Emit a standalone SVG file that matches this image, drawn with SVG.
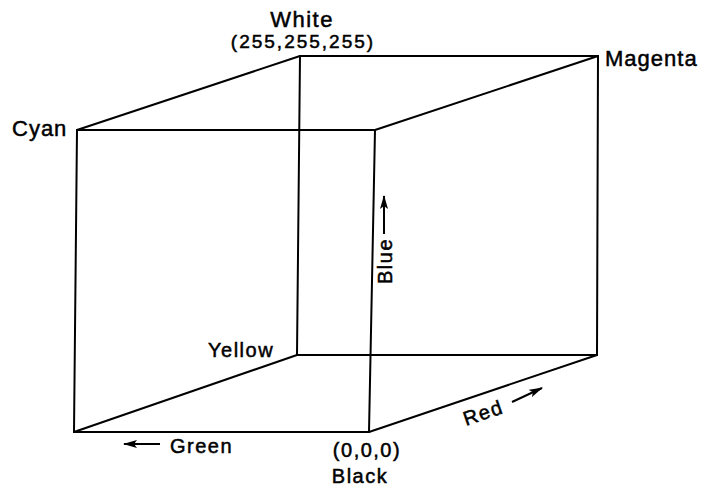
<svg xmlns="http://www.w3.org/2000/svg" width="706" height="493" viewBox="0 0 706 493">
<style>
.e{stroke:#000;stroke-width:2;fill:none;stroke-linecap:round}
.t{font-family:"Liberation Sans",Arial,sans-serif;font-size:20px;fill:#000;stroke:#000;stroke-width:0.5;letter-spacing:1.5px}
.a{stroke:#000;stroke-width:2;fill:none;marker-end:url(#ah)}
</style>
<defs>
<marker id="ah" viewBox="0 0 14 8" refX="13" refY="4" markerWidth="7" markerHeight="4" orient="auto" markerUnits="strokeWidth">
<path d="M0,0 L14,4 L0,8 L3,4 z" fill="#000"/>
</marker>
</defs>
<rect width="706" height="493" fill="#fff"/>
<g id="connectors">
<path class="e" d="M77,130 L375,130 L369,432 L74,432 Z"/>
<path class="e" d="M300,56 L598,56 L597,355 L297,355 Z"/>
<path class="e" d="M77,130 L300,56 M375,130 L598,56 M369,432 L597,355 M74,432 L297,355"/>
</g>
<g id="white"><text class="t" x="302" y="27" text-anchor="middle" style="font-size:22px">White</text>
<text class="t" x="303" y="48" text-anchor="middle" style="font-size:19px;letter-spacing:2px">(255,255,255)</text></g>
<g id="magenta"><text class="t" x="605" y="66" style="font-size:22px;letter-spacing:1px">Magenta</text></g>
<g id="cyan"><text class="t" x="12" y="136" style="font-size:22px;letter-spacing:1px">Cyan</text></g>
<g id="yellow"><text class="t" x="208" y="357">Yellow</text></g>
<g id="black"><text class="t" x="367" y="457" text-anchor="middle">(0,0,0)</text>
<text class="t" x="360" y="483" text-anchor="middle">Black</text></g>
<g id="green"><text class="t" x="170" y="453">Green</text>
<line class="a" x1="160" y1="444" x2="124" y2="444"/></g>
<g id="blue"><text class="t" transform="translate(392,284) rotate(-90)">Blue</text>
<line class="a" x1="384" y1="234" x2="384" y2="196"/></g>
<g id="red"><text class="t" transform="translate(466,426) rotate(-19)">Red</text>
<line class="a" x1="512" y1="402" x2="542" y2="388"/></g>
</svg>
